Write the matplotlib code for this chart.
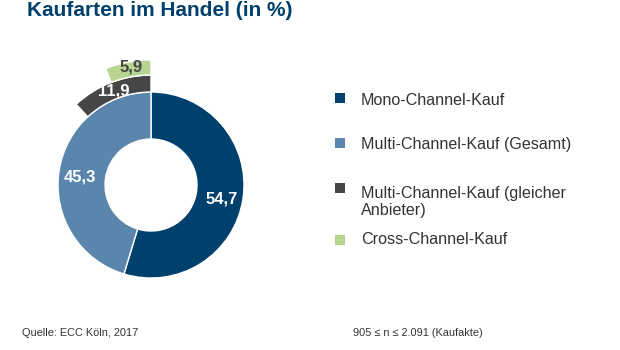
import numpy as np
import matplotlib
matplotlib.use("Agg")
import matplotlib.pyplot as plt
from matplotlib import font_manager

# Kaufarten im Handel, Anteile in %
MAIN_LABELS = ["Mono-Channel-Kauf", "Multi-Channel-Kauf (Gesamt)"]
MAIN_VALUES = [54.7, 45.3]
SAME_VENDOR = 11.9   # Multi-Channel-Kauf (gleicher Anbieter)
CROSS = 5.9          # Cross-Channel-Kauf

LEGEND_LABELS = [
    "Mono-Channel-Kauf",
    "Multi-Channel-Kauf (Gesamt)",
    "Multi-Channel-Kauf (gleicher\nAnbieter)",
    "Cross-Channel-Kauf",
]

DARK_BLUE = "#00406d"
MID_BLUE = "#5a85ad"
DARK_GRAY = "#464646"
LIGHT_GREEN = "#b7d491"
TEXT = "#333333"
COLORS = [DARK_BLUE, MID_BLUE, DARK_GRAY, LIGHT_GREEN]

names = {f.name for f in font_manager.fontManager.ttflist}
FONT = "Liberation Sans"
NARROW = "Liberation Sans Narrow" if "Liberation Sans Narrow" in names else FONT
plt.rcParams["font.family"] = FONT

W, H = 620, 350
CX, CY = 151, H - 185
R_MAIN, W_MAIN = 93, 47
R_GRAY, W_GRAY = 110, 17
R_GREEN, W_GREEN = 125, 15


def de(v):
    return f"{v:.1f}".replace(".", ",")


def label_pos(start_deg, share, r, clockwise):
    sweep = share * 3.6
    mid = start_deg - sweep / 2 if clockwise else start_deg + sweep / 2
    a = np.deg2rad(mid)
    return CX + r * np.cos(a), CY + r * np.sin(a)


fig = plt.figure(figsize=(W / 100, H / 100), dpi=100)
ax = fig.add_axes([0, 0, 1, 1])

edge = dict(edgecolor="white", linewidth=1)
ax.pie(MAIN_VALUES, colors=COLORS[:2], startangle=90, counterclock=False,
       center=(CX, CY), radius=R_MAIN, wedgeprops=dict(width=W_MAIN, **edge))
ax.pie([SAME_VENDOR, 100 - SAME_VENDOR], colors=[DARK_GRAY, "none"], startangle=90,
       center=(CX, CY), radius=R_GRAY, wedgeprops=dict(width=W_GRAY, **edge))
ax.pie([CROSS, 100 - CROSS], colors=[LIGHT_GREEN, "none"], startangle=90,
       center=(CX, CY), radius=R_GREEN, wedgeprops=dict(width=W_GREEN, **edge))
# hide the filler wedges' edges
for p in ax.patches:
    if p.get_facecolor()[3] == 0:
        p.set_edgecolor("none")

lbl = dict(fontsize=12, fontweight="bold", ha="center", va="center")
start = 90
for v in MAIN_VALUES:
    x, y = label_pos(start, v, R_MAIN - W_MAIN / 2 + 2, clockwise=True)
    ax.text(x, y - 3, de(v), color="white", **lbl)
    start -= v * 3.6
x, y = label_pos(90, SAME_VENDOR, R_GRAY - W_GRAY / 2, clockwise=False)
ax.text(x, y, de(SAME_VENDOR), color="white", **lbl)
x, y = label_pos(90, CROSS, R_GREEN - W_GREEN / 2, clockwise=False)
ax.text(x + 2, y + 3, de(CROSS), color=DARK_GRAY, **lbl)

ax.set_xlim(0, W)
ax.set_ylim(0, H)
ax.set_aspect("equal")
ax.axis("off")

# legend (text baseline = last line of each label)
legend_y = [98, 143, 188, 240]
legend_base = [105, 149, 215, 244]
for lab, c, ym, yb in zip(LEGEND_LABELS, COLORS, legend_y, legend_base):
    ax.scatter([340], [H - ym], marker="s", s=42, color=c, linewidths=0)
    ax.text(361, H - yb, lab, fontsize=11.6, color=TEXT, ha="left", va="baseline",
            linespacing=1.2)

ax.text(27, H - 16.5, "Kaufarten im Handel (in %)", fontsize=15, fontweight="bold",
        color=DARK_BLUE, ha="left", va="baseline")

ax.text(22, H - 336, "Quelle: ECC Köln, 2017", fontsize=7.9, color=TEXT,
        family=NARROW, ha="left", va="baseline")
ax.text(483, H - 336, "905 ≤ n ≤ 2.091 (Kaufakte)", fontsize=7.9, color=TEXT,
        family=[NARROW, "DejaVu Sans"], ha="right", va="baseline")

fig.savefig("out.png", dpi=100, facecolor="white")
